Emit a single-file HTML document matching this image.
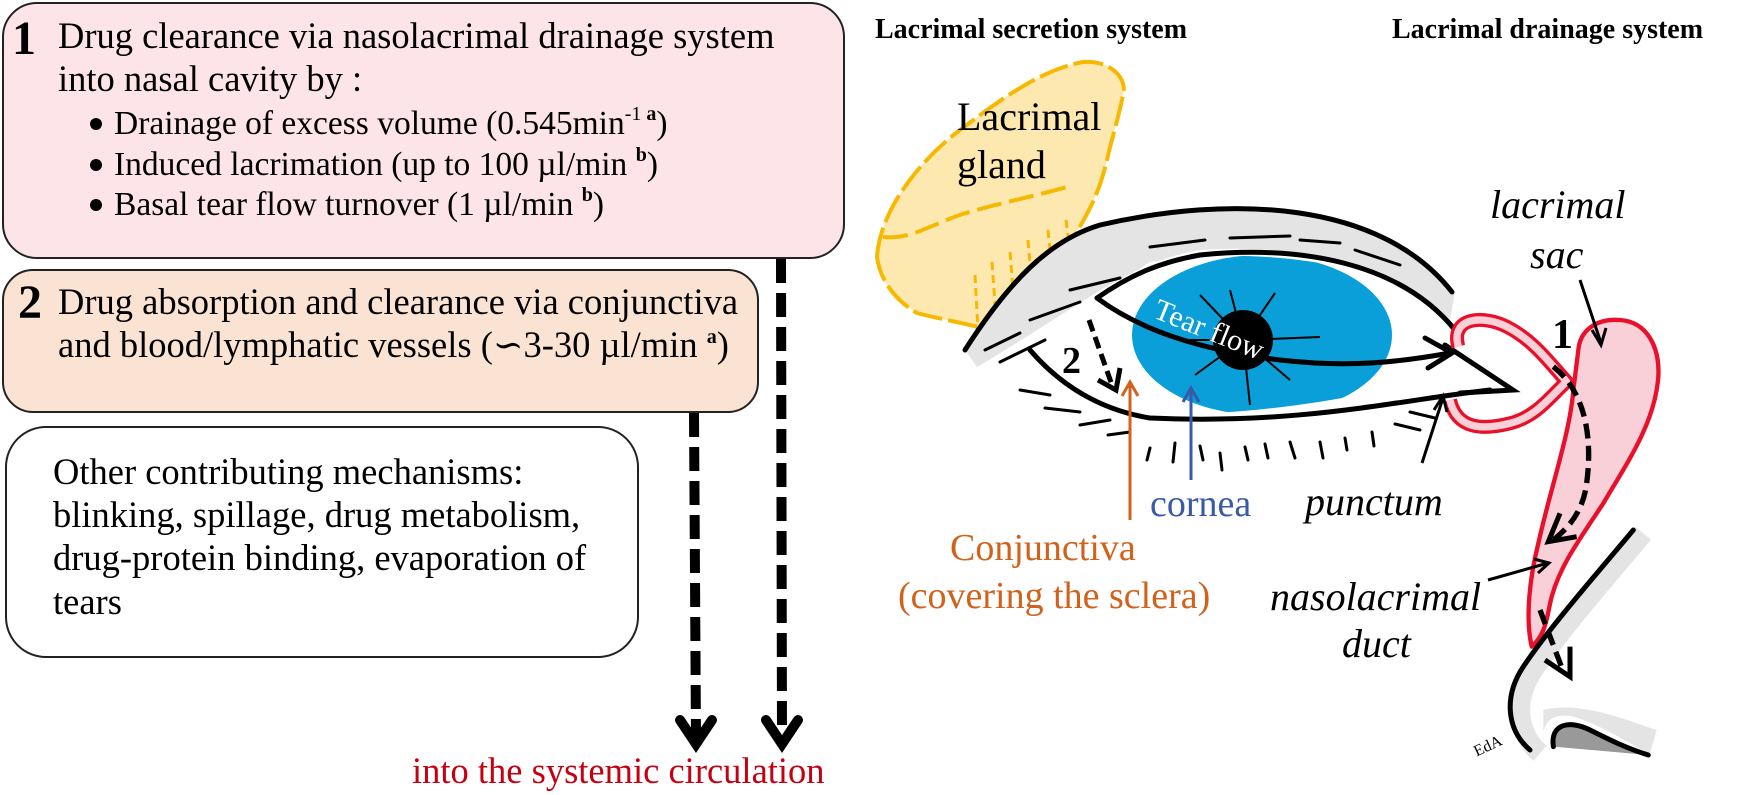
<!DOCTYPE html>
<html><head><meta charset="utf-8"><style>
html,body{margin:0;padding:0;background:#fff;}
svg{display:block;}
text{font-family:"Liberation Serif","DejaVu Serif",serif;}
</style></head><body>
<svg width="1748" height="795" viewBox="0 0 1748 795" xmlns="http://www.w3.org/2000/svg">
<!-- Left boxes -->
<rect x="3" y="3" width="841" height="255" rx="34" fill="#fde4e9" stroke="#222" stroke-width="2"/>
<rect x="3" y="270" width="755" height="142" rx="30" fill="#fbe3d4" stroke="#222" stroke-width="2"/>
<rect x="6" y="427" width="632" height="230" rx="40" fill="#fff" stroke="#222" stroke-width="2"/>

<text x="12" y="54" font-size="48" font-weight="bold">1</text>
<text x="58" y="48" font-size="36.5">Drug clearance via nasolacrimal drainage system</text>
<text x="58" y="91" font-size="36.5">into nasal cavity by :</text>
<g font-size="33.5">
<circle cx="96" cy="124" r="6" fill="#000"/>
<text x="114" y="134">Drainage of excess volume (0.545min<tspan font-size="20" dy="-14">-1 </tspan><tspan font-size="20" font-weight="bold">a</tspan><tspan dy="14">)</tspan></text>
<circle cx="96" cy="165" r="6" fill="#000"/>
<text x="114" y="175">Induced lacrimation (up to 100 µl/min <tspan font-size="20" font-weight="bold" dy="-14">b</tspan><tspan dy="14">)</tspan></text>
<circle cx="96" cy="205" r="6" fill="#000"/>
<text x="114" y="215">Basal tear flow turnover (1 µl/min <tspan font-size="20" font-weight="bold" dy="-14">b</tspan><tspan dy="14">)</tspan></text>
</g>
<text x="18" y="318" font-size="48" font-weight="bold">2</text>
<text x="58" y="314" font-size="36.5">Drug absorption and clearance via conjunctiva</text>
<text x="58" y="357" font-size="36.5">and blood/lymphatic vessels (∽3-30 µl/min <tspan font-size="20" font-weight="bold" dy="-14">a</tspan><tspan dy="14">)</tspan></text>

<g font-size="36.5">
<text x="53" y="484">Other contributing mechanisms:</text>
<text x="53" y="527">blinking, spillage, drug metabolism,</text>
<text x="53" y="570">drug-protein binding, evaporation of</text>
<text x="53" y="614">tears</text>
</g>

<g stroke="#000" stroke-width="10" fill="none">
<line x1="694" y1="413" x2="696" y2="740" stroke-dasharray="24,10"/>
<polyline points="680,720 696,744 712,720" stroke-linecap="round"/>
<line x1="781" y1="259" x2="782" y2="740" stroke-dasharray="24,10"/>
<polyline points="766,720 782,744 798,720" stroke-linecap="round"/>
</g>
<text x="412" y="783" font-size="36.5" fill="#c40012">into the systemic circulation</text>

<!-- Headers -->
<text x="875" y="38" font-size="28" font-weight="bold">Lacrimal secretion system</text>
<text x="1392" y="38" font-size="28" font-weight="bold">Lacrimal drainage system</text>

<!-- Lacrimal gland -->
<path d="M877,257 C880,210 920,160 960,130 C1000,100 1040,70 1083,62 C1110,60 1128,78 1123,95 C1118,120 1110,145 1107,160 C1100,190 1090,210 1075,235 C1060,260 1040,280 1020,300 L990,330 C960,322 935,318 917,313 C895,300 880,280 877,257 Z" fill="#fde9b0" stroke="#f6b800" stroke-width="4" stroke-dasharray="30,6"/>
<path d="M883,237 C910,240 930,225 960,215 C990,205 1020,200 1067,187" fill="none" stroke="#f6b800" stroke-width="4" stroke-dasharray="25,8"/>
<g stroke="#f6b800" stroke-width="3" stroke-dasharray="8,5">
<line x1="975" y1="275" x2="978" y2="330"/><line x1="992" y1="262" x2="996" y2="318"/>
<line x1="1010" y1="252" x2="1014" y2="302"/><line x1="1028" y1="240" x2="1032" y2="288"/>
<line x1="1048" y1="230" x2="1052" y2="270"/><line x1="1066" y1="220" x2="1070" y2="252"/>
</g>
<text x="957" y="130" font-size="40">Lacrimal</text>
<text x="957" y="178" font-size="40">gland</text>

<!-- Eye -->
<path d="M965,350 C1010,280 1050,240 1100,225 C1230,195 1380,200 1455,292 L1450,320 C1400,265 1300,243 1200,250 C1130,262 1090,300 977,367 Z" fill="#e4e4e4"/>
<clipPath id="eyeclip"><path d="M1030,352 C1070,320 1100,295 1150,262 C1250,245 1400,262 1450,320 L1472,372 C1400,385 1300,415 1150,415 C1090,410 1060,385 1030,352 Z"/></clipPath>
<path d="M1030,352 C1070,320 1100,295 1150,262 C1250,245 1400,262 1450,320 L1472,372 C1400,385 1300,415 1150,415 C1090,410 1060,385 1030,352 Z" fill="#fff"/>
<g clip-path="url(#eyeclip)">
<ellipse cx="1262" cy="335" rx="130" ry="80" fill="#0a9fd8"/>
</g>
<circle cx="1243" cy="340" r="30" fill="#000"/>
<g stroke="#000" stroke-width="2">
<line x1="1243" y1="340" x2="1200" y2="295"/><line x1="1243" y1="340" x2="1275" y2="293"/>
<line x1="1243" y1="340" x2="1320" y2="337"/><line x1="1243" y1="340" x2="1250" y2="405"/>
<line x1="1243" y1="340" x2="1195" y2="375"/><line x1="1243" y1="340" x2="1290" y2="380"/>
<line x1="1243" y1="340" x2="1230" y2="290"/><line x1="1243" y1="340" x2="1190" y2="340"/>
</g>
<g fill="none" stroke="#000" stroke-width="5" stroke-linecap="round">
<path d="M965,350 C1010,280 1050,240 1100,225 C1230,195 1380,200 1452,292"/>
<path d="M1097,298 C1130,275 1160,262 1200,255 C1300,245 1400,262 1455,330"/>
<path d="M1030,350 C1060,385 1100,410 1150,418 C1300,425 1400,400 1490,390"/>
<path d="M1445,345 L1513,390 L1460,393"/>
<path d="M1097,298 C1140,330 1200,350 1280,360 C1350,368 1400,362 1450,353"/>
<polyline points="1425,338 1452,353 1428,368"/>
</g>
<g stroke="#000" stroke-width="3" stroke-linecap="round">
<line x1="985" y1="350" x2="1020" y2="333"/><line x1="1000" y1="362" x2="1045" y2="340"/>
<line x1="1030" y1="320" x2="1080" y2="302"/><line x1="1070" y1="290" x2="1120" y2="278"/>
<line x1="1150" y1="247" x2="1205" y2="240"/><line x1="1230" y1="238" x2="1290" y2="236"/>
<line x1="1300" y1="240" x2="1340" y2="243"/><line x1="1355" y1="250" x2="1400" y2="265"/>
<line x1="1020" y1="390" x2="1050" y2="395"/><line x1="1045" y1="408" x2="1080" y2="412"/>
<line x1="1080" y1="425" x2="1110" y2="420"/><line x1="1108" y1="435" x2="1130" y2="432"/>
<line x1="1150" y1="448" x2="1147" y2="460"/><line x1="1175" y1="443" x2="1173" y2="462"/>
<line x1="1200" y1="446" x2="1203" y2="460"/><line x1="1220" y1="453" x2="1222" y2="470"/>
<line x1="1245" y1="447" x2="1248" y2="460"/><line x1="1265" y1="444" x2="1268" y2="458"/>
<line x1="1290" y1="442" x2="1295" y2="458"/><line x1="1320" y1="442" x2="1323" y2="458"/>
<line x1="1345" y1="438" x2="1347" y2="450"/><line x1="1372" y1="432" x2="1374" y2="446"/>
<line x1="1395" y1="424" x2="1420" y2="430"/><line x1="1410" y1="412" x2="1435" y2="418"/>
</g>
<text x="1152" y="317" font-size="30" fill="#fff" transform="rotate(22 1152 317)">Tear flow</text>
<text x="1062" y="373" font-size="38" font-weight="bold">2</text>
<g stroke="#000" stroke-width="5" fill="none">
<line x1="1089" y1="320" x2="1112" y2="385" stroke-dasharray="12,6"/>
<polyline points="1098,380 1116,390 1120,368"/>
</g>
<line x1="1130" y1="382" x2="1130" y2="520" stroke="#d0621b" stroke-width="3"/>
<polyline points="1122,396 1130,382 1138,396" fill="none" stroke="#d0621b" stroke-width="3"/>
<line x1="1191" y1="388" x2="1191" y2="480" stroke="#3a5aa8" stroke-width="3"/>
<polyline points="1183,402 1191,388 1199,402" fill="none" stroke="#3a5aa8" stroke-width="3"/>
<text x="1150" y="516" font-size="38" fill="#3a5aa8">cornea</text>
<text x="950" y="560" font-size="38" fill="#d0621b">Conjunctiva</text>
<text x="898" y="608" font-size="38" fill="#d0621b">(covering the sclera)</text>

<!-- Drainage system -->
<g transform="translate(1250,250) scale(0.33333)">
<path d="M625,290 C600,200 700,195 770,230 C850,270 900,340 950,395 C900,440 860,500 780,520 C700,540 620,540 600,450" fill="none" stroke="#e8102a" stroke-width="42" stroke-linejoin="round"/>
<path d="M625,290 C600,200 700,195 770,230 C850,270 900,340 950,395 C900,440 860,500 780,520 C700,540 620,540 600,450" fill="none" stroke="#f9cfd8" stroke-width="22" stroke-linejoin="round"/>
<path d="M985,300 C990,240 1040,205 1110,210 C1190,215 1230,290 1225,380 C1215,520 1130,640 1060,760 C980,880 930,950 905,1040 C890,1100 890,1150 845,1190 C825,1100 840,980 865,880 C900,720 960,550 970,420 Z" fill="#f9cfd8" stroke="#e8102a" stroke-width="13" stroke-linejoin="round"/>
<path d="M1150,840 C1050,960 900,1130 820,1250 C760,1340 770,1440 840,1500" fill="none" stroke="#e4e4e4" stroke-width="60" transform="translate(30,10)"/>
<path d="M1150,840 C1050,960 900,1130 820,1250 C760,1340 770,1440 840,1500" fill="none" stroke="#000" stroke-width="15" stroke-linecap="round"/>
<path d="M880,1480 C870,1400 930,1380 1000,1410 C1080,1440 1150,1490 1200,1510 L1220,1440 C1150,1420 1000,1350 880,1380 Z" fill="#e4e4e4"/>
<path d="M910,1490 C900,1420 960,1410 1020,1440 C1080,1470 1130,1495 1195,1515 Z" fill="#999"/>
<path d="M910,1490 C900,1420 960,1410 1020,1440 C1080,1470 1130,1495 1195,1515" fill="none" stroke="#000" stroke-width="15" stroke-linecap="round"/>
<path d="M910,350 C1000,420 1030,550 1010,700 C1000,780 960,830 910,870" fill="none" stroke="#000" stroke-width="16" stroke-dasharray="45,22"/>
<polyline points="930,790 895,875 980,860" fill="none" stroke="#000" stroke-width="15"/>
<line x1="870" y1="1080" x2="940" y2="1265" stroke="#000" stroke-width="16" stroke-dasharray="45,22"/>
<polyline points="885,1230 960,1280 960,1190" fill="none" stroke="#000" stroke-width="15"/>
<text x="680" y="1520" font-size="48" transform="rotate(-25 680 1520)" font-family="DejaVu Sans, sans-serif">EdA</text>
</g>
<text x="1552" y="348" font-size="42" font-weight="bold">1</text>
<g font-size="40" font-style="italic">
<text x="1490" y="218">lacrimal</text>
<text x="1530" y="268">sac</text>
<text x="1305" y="515">punctum</text>
<text x="1270" y="610">nasolacrimal</text>
<text x="1342" y="657">duct</text>
</g>
<g stroke="#000" stroke-width="3" fill="none">
<line x1="1580" y1="280" x2="1601" y2="343"/><polyline points="1592,330 1601,345 1606,328"/>
<line x1="1422" y1="463" x2="1443" y2="398"/><polyline points="1434,410 1443,396 1447,412"/>
<line x1="1488" y1="580" x2="1548" y2="563"/><polyline points="1534,559 1549,563 1538,573"/>
</g>
</svg>
</body></html>
